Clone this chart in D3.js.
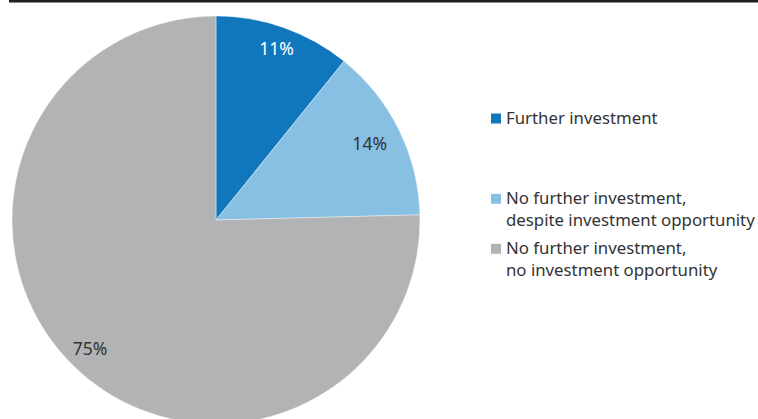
<!DOCTYPE html>
<html><head><meta charset="utf-8">
<script src="https://cdn.jsdelivr.net/npm/d3@7"></script>
<style>body{margin:0;background:#fff}svg{display:block}</style>
</head><body>
<svg id="c" width="758" height="419"></svg>
<script>
const categories = ["Further investment", "No further investment, despite investment opportunity", "No further investment, no investment opportunity"];
const legendLines = [["Further investment"], ["No further investment,", "despite investment opportunity"], ["No further investment,", "no investment opportunity"]];
const values = [10.8, 13.8, 75.4];
const valueLabels = ["11%", "14%", "75%"];
const colors = ["#1177bd", "#88c0e3", "#b1b3b4"];
const labelColors = ["#ffffff", "#333333", "#333333"];

const svg = d3.select("#c");
const font = "'Noto Sans', 'Open Sans', sans-serif";
// top rule
svg.append("rect").attr("x", 9).attr("y", 0).attr("width", 749).attr("height", 2.5).attr("fill", "#231f20");

const cx = 216, cy = 220, R = 204;
const pie = d3.pie().sort(null).value(d => d)(values);
const arc = d3.arc().innerRadius(0).outerRadius(R);
const g = svg.append("g").attr("transform", `translate(${cx},${cy})`);
g.selectAll("path").data(pie).join("path")
  .attr("d", arc).attr("fill", (d, i) => colors[i])
  .attr("stroke", "#fff").attr("stroke-width", 0.4);

const labelR = [0.89, 0.84, 0.885];
g.selectAll("text").data(pie).join("text")
  .attr("transform", (d, i) => {
    const a = d3.arc().innerRadius(R * labelR[i]).outerRadius(R * labelR[i]);
    const [x, y] = a.centroid(d);
    return `translate(${x},${y})`;
  })
  .attr("text-anchor", "middle").attr("dy", "0.35em")
  .attr("font-family", font).attr("font-size", 17.5)
  .attr("fill", (d, i) => labelColors[i])
  .text((d, i) => valueLabels[i]);

const legendY = [124, 204.3, 254.3];
const lg = svg.append("g");
categories.forEach((c, i) => {
  lg.append("rect").attr("x", 491).attr("y", legendY[i] - 10.5).attr("width", 10).attr("height", 10).attr("fill", colors[i]);
  const t = lg.append("text").attr("x", 506).attr("y", legendY[i])
    .attr("font-family", font).attr("font-size", 16.8).attr("fill", "#333");
  legendLines[i].forEach((l, j) => {
    t.append("tspan").attr("x", 506).attr("dy", j === 0 ? 0 : 21.5).text(l);
  });
});
</script>
</body></html>
